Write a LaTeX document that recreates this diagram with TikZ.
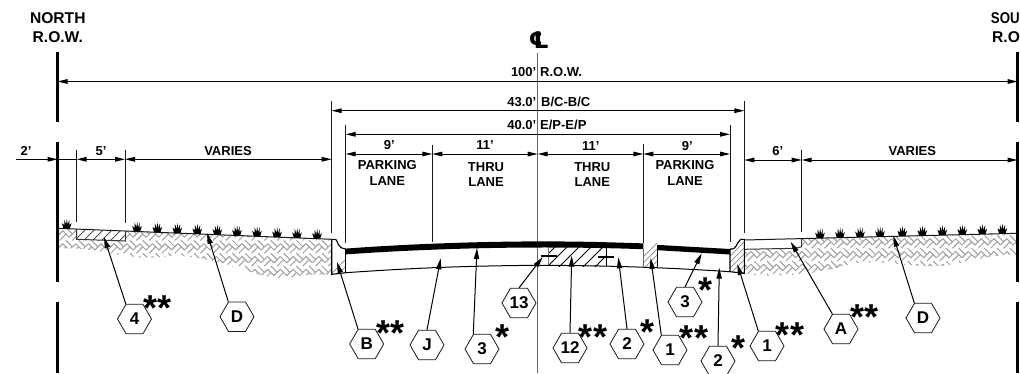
\documentclass[tikz,border=0pt]{standalone}
\usepackage{fontspec}
\setmainfont{Liberation Sans}
\newfontfamily\symfont{DejaVu Sans}
\usetikzlibrary{arrows.meta,shapes.geometric}
\tikzset{
  lbl/.style={inner sep=0pt,anchor=base,font=\fontsize{13}{15}\selectfont\bfseries},
  lblE/.style={lbl,anchor=base east},
  lblW/.style={lbl,anchor=base west},
  head/.style={inner sep=0pt,anchor=base,font=\fontsize{15.6}{18}\selectfont\bfseries},
  hexa/.style={regular polygon,regular polygon sides=6,draw=black!90,line width=.8pt,fill=white,
     minimum size=34pt,inner sep=0pt,font=\fontsize{17}{18}\selectfont\bfseries},
  stars/.style={inner sep=0pt,anchor=base,font=\fontsize{36}{36}\selectfont\bfseries},
  lead/.style={line width=1pt,black,-{Stealth[length=11pt,width=5.2pt,inset=0pt]}},
  dim/.style={line width=1pt,black,{Stealth[length=10pt,width=4.6pt,inset=0pt]}-{Stealth[length=10pt,width=4.6pt,inset=0pt]}},
  dimr/.style={line width=1pt,black,-{Stealth[length=10pt,width=4.6pt,inset=0pt]}},
  ext/.style={line width=1pt,black!90},
  rowbar/.style={line width=2.5pt,black},
  surf/.style={line width=1pt,black!90},
  hatchgray/.style={line width=.7pt,black!45},
  hatchblack/.style={line width=.8pt,black},
  weave/.style={line width=1pt,black!38},
  pics/tuft/.style={code={
    \fill[black] (-3.2,0) -- (-4.8,-5.5) -- (-2.4,-3.6) -- (-2.3,-9) -- (-.6,-4.2) -- (.2,-10)
      -- (1,-4.2) -- (2.8,-9) -- (2.6,-3.6) -- (4.8,-5.5) -- (3.2,0) -- cycle;
  }},
}
\newcommand{\weavefill}[3]{% x origin, y origin, count
  \foreach \n in {0,...,#3}{
    \pgfmathtruncatemacro{\pty}{mod(\n,2)}
    \foreach \k in {0,...,5}{
      \pgfmathsetmacro{\cx}{#1+6.4*\n}
      \pgfmathsetmacro{\cy}{#2+6.4*(\pty+2*\k)}
      \ifnum\pty=0
        \draw[weave] (\cx,\cy) -- ++(6.4,6.4);
        \draw[weave] (\cx+3.2,\cy-3.2) -- ++(6.4,6.4);
      \else
        \draw[weave] (\cx,\cy) -- ++(6.4,-6.4);
        \draw[weave] (\cx+3.2,\cy+3.2) -- ++(6.4,-6.4);
      \fi
    }
  }
}
\begin{document}
\begin{tikzpicture}[x=1pt,y=-1pt]
\clip (0,0) rectangle (1020,373);
\fill[white] (0,0) rectangle (1020,373);

% ---- earth left
\begin{scope}
  \clip (57.5,228.3) -- (331.7,239.3) -- (331.7,275) .. controls (300,272) and (290,282) .. (265,276)
    .. controls (235,268) and (200,252) .. (160,257) .. controls (120,260) and (90,245) .. (57.5,249) -- cycle;
  \weavefill{50}{218}{45}
\end{scope}
% ---- earth right
\begin{scope}
  \clip (744.3,240) -- (1017.5,233.3) -- (1017.5,255) .. controls (990,252) and (960,268) .. (925,266)
    .. controls (890,264) and (870,260) .. (850,264) .. controls (820,274) and (780,278) .. (744.3,274) -- cycle;
  \weavefill{738}{213}{44}
\end{scope}

% ---- left sidewalk
\begin{scope}
  \fill[white] (76.7,229.1) -- (125.7,231.1) -- (125.7,241) -- (76.7,239.3) -- cycle;
  \clip (76.7,229.1) -- (125.7,231.1) -- (125.7,241) -- (76.7,239.3) -- cycle;
  \foreach \x in {72,81,...,135}{\draw[line width=.7pt,black!80] (\x,243) -- ++(16,-16);}
\end{scope}
\draw[line width=1pt,black!80] (76.7,229.1) -- (76.7,239.3) -- (125.7,241) -- (125.7,231.1);

% ---- right sidewalk
\fill[white] (744.3,240) -- (801.7,238.4) -- (801.7,246.7) -- (795,248.3) -- (744.3,249.3) -- cycle;
\draw[line width=1pt,black!80] (744.3,249.3) -- (795,248.3) -- (801.7,246.7) -- (801.7,238.4);

% ---- curbs hatching
\begin{scope}
  \clip (331.7,239.3) -- (335.7,239.3) .. controls (338,241) and (337,248) .. (345.7,249) -- (345.7,272.7) -- (331.7,274.3) -- cycle;
  \foreach \x in {325,332,...,360}{\draw[hatchgray] (\x,280) -- ++(40,-40);}
\end{scope}
\begin{scope}
  \clip (730,249) .. controls (737,250) and (736,243) .. (740.7,239.3) -- (744.3,239.3) -- (744.3,273.3) -- (730,271.7) -- cycle;
  \foreach \x in {700,706,...,745}{\draw[hatchgray] (\x,280) -- ++(42,-42);}
\end{scope}
% ---- concrete patch at 1
\begin{scope}
  \clip (643.3,243.5) rectangle (657.7,267.5);
  \foreach \x in {630,636,...,660}{\draw[hatchgray] (\x,270) -- ++(28,-28);}
\end{scope}
% ---- concrete patch at 12
\begin{scope}
  \clip (548.3,246) rectangle (606.7,266);
  \foreach \x in {532,544,...,610}{\draw[hatchblack] (\x,270) -- ++(24,-24);}
\end{scope}

% ---- extension lines
\draw[ext] (331.7,101) -- (331.7,233);
\draw[ext] (744.3,101) -- (744.3,233);
\draw[ext] (345.7,124.5) -- (345.7,243);
\draw[ext] (730,125) -- (730,241.7);
\draw[ext] (432.3,145) -- (432.3,242.3);
\draw[ext] (643.3,144) -- (643.3,243.3);
\draw[ext] (76.7,150) -- (76.7,222.3);
\draw[ext] (125,150) -- (125,223);
\draw[ext] (801.7,150) -- (801.7,231.7);

% ---- centre line
\coordinate (clT) at (537.7,52.7);
\coordinate (clB) at (537.7,373);
\draw[line width=1pt,black!60] (clT) -- (clB);

% ---- R.O.W. bars
\foreach \x in {57.5,1017.5}{
  \draw[rowbar] (\x,52) -- (\x,122);
  \draw[rowbar] (\x,142) -- (\x,281.7);
  \draw[rowbar] (\x,301.7) -- (\x,373);
}

% ---- dimension lines
\coordinate (rowL) at (57.5,81.5);  \coordinate (rowR) at (1017.5,81.5);
\coordinate (bcL) at (331.7,110.7); \coordinate (bcR) at (744.3,110.7);
\coordinate (epL) at (345.7,134.3); \coordinate (epR) at (730,134.3);
\coordinate (la) at (345.7,154); \coordinate (lb) at (432.3,154);
\coordinate (lc) at (537.7,154); \coordinate (ld) at (643.3,154); \coordinate (le) at (730,154);
\coordinate (tw) at (15.7,159.3); \coordinate (ta) at (57.5,159.3);
\coordinate (tb) at (76.7,159.3); \coordinate (tc) at (125,159.3); \coordinate (td) at (331.7,159.3);
\coordinate (ra) at (744.3,160); \coordinate (rb) at (801.7,160); \coordinate (rc) at (1017.5,160);
\draw[dim] (rowL) -- (rowR);
\draw[dim] (bcL) -- (bcR);
\draw[dim] (epL) -- (epR);
\draw[dim] (la) -- (lb);
\draw[dim] (lb) -- (lc);
\draw[dim] (lc) -- (ld);
\draw[dim] (ld) -- (le);
\draw[dimr] (tw) -- (ta);
\draw[line width=1pt,black] (ta) -- (tb);
\draw[dim] (tb) -- (tc);
\draw[dim] (tc) -- (td);
\draw[dim] (ra) -- (rb);
\draw[dim] (rb) -- (rc);

% ---- surfaces
\draw[surf] (57.5,228.3) -- (331.7,239.3);
\draw[surf] (744.3,240) -- (1017.5,233.3);

% ---- tufts
\foreach \x in {66.7,137,157.3,177.3,197.3,217.3,237,257,277,297,317}{
  \pgfmathsetmacro{\y}{228.3+(\x-57.5)*11/274.2}
  \pic at (\x,\y) {tuft};
}
\foreach \x in {820,840,860,880,902.3,922.3,942.3,962.3,982.3,1002.3}{
  \pgfmathsetmacro{\y}{240+(\x-744.3)*(-6.7)/273.2}
  \pic at (\x,\y) {tuft};
}

% ---- left curb outline
\draw[line width=1.1pt,black] (331.7,239.3) -- (331.7,274.3) -- (345.7,272.7);
\draw[line width=1.1pt,black] (331.7,239.3) -- (335.7,239.3) .. controls (338,241) and (337,248) .. (345.7,249);
\draw[line width=1.1pt,black] (345.7,249) -- (345.7,272.7);
% ---- right curb outline
\draw[line width=1.1pt,black] (730,249) -- (730,271.7) -- (744.3,273.3) -- (744.3,239.3) -- (740.7,239.3)
   .. controls (736,243) and (737,250) .. (730,249);

% ---- subgrade curve
\draw[line width=1pt,black] (345.7,272.7) .. controls (400,269) and (450,266) .. (537.7,265.3)
   .. controls (600,265.5) and (660,267) .. (730,271.7);

% ---- pavement band
\fill[black] (345.7,248.6) .. controls (400,244.5) and (470,241.6) .. (537.7,241.4)
   .. controls (580,241.3) and (615,242.4) .. (643.3,243.4) -- (643.3,249.2)
   .. controls (615,248.2) and (580,247.4) .. (537.7,247.5)
   .. controls (470,247.6) and (400,250.5) .. (345.7,254.4) -- cycle;
\fill[black] (657.7,244.9) -- (730,249) -- (730,254.5) -- (657.7,250.2) -- cycle;

% ---- vertical edges in the road
\draw[line width=1pt,black] (657.7,245) -- (657.7,267.5);
\draw[line width=1pt,black] (606.7,247.8) -- (606.7,266);
\draw[line width=.9pt,black!50] (548.3,247.5) -- (548.3,265.3);
\draw[line width=.9pt,black!60] (643.3,249) -- (643.3,267);

% ---- joints
\coordinate (j1a) at (540.7,256); \coordinate (j1b) at (556.7,256);
\coordinate (j2a) at (598.3,256.7); \coordinate (j2b) at (614.3,256.7);
\draw[line width=2.4pt,black] (j1a) -- (j1b);
\draw[line width=2.4pt,black] (j2a) -- (j2b);

% ---- headings
\node[head] (northA) at (57.8,23) {NORTH};
\node[head] (northB) at (57.8,42.7) {R.O.W.};
\node[head,anchor=base west] (southA) at (990.7,23) {\scalebox{.85}[1]{SOU}};
\node[head,anchor=base west] (southB) at (992,42.7) {R.O};
\node[font=\fontsize{23}{23}\selectfont\symfont\bfseries,inner sep=0pt] (cl) at (539,40.5) {^^^^2104};

% ---- dimension texts
\node[lblE] (t100) at (536.5,76.7) {100'};
\node[lblW] (t100b) at (540,76.7) {R.O.W.};
\node[lblE] (t43) at (536.5,106) {43.0'};
\node[lblW] (t43b) at (541,106) {B/C-B/C};
\node[lblE] (t40) at (536.5,129) {40.0'};
\node[lblW] (t40b) at (540,129) {E/P-E/P};
\node[lbl] (t9a) at (389.3,149.5) {9'};
\node[lbl] (t11a) at (485,149.5) {11'};
\node[lbl] (t11b) at (590.7,150) {11'};
\node[lbl] (t9b) at (687.3,150) {9'};
\node[lbl] (t2) at (26,155) {2'};
\node[lbl] (t5) at (101,155) {5'};
\node[lbl] (tv1) at (228,155) {VARIES};
\node[lbl] (t6) at (777.7,155) {6'};
\node[lbl] (tv2) at (912.3,155) {VARIES};
\node[lbl] (pk1) at (387.3,169) {PARKING};
\node[lbl] (pl1) at (387.3,185) {LANE};
\node[lbl] (th1) at (486,171) {THRU};
\node[lbl] (tl1) at (486,186.7) {LANE};
\node[lbl] (th2) at (592.3,171) {THRU};
\node[lbl] (tl2) at (592.3,186.7) {LANE};
\node[lbl] (pk2) at (685,169.3) {PARKING};
\node[lbl] (pl2) at (685,185) {LANE};

% ---- callouts
\node[hexa] (h4) at (134.5,319) {4};
\node[hexa] (hD) at (237,316.7) {D};
\node[hexa] (hB) at (366.7,344) {B};
\node[hexa] (hJ) at (427,345) {J};
\node[hexa] (h3) at (482,349) {3};
\node[hexa] (h13) at (519,303) {13};
\node[hexa] (h12) at (570,348) {12};
\node[hexa] (h2) at (627,344) {2};
\node[hexa] (h1) at (670,350) {1};
\node[hexa] (h3b) at (685,302) {3};
\node[hexa] (h2b) at (718,361) {2};
\node[hexa] (h1b) at (767,346) {1};
\node[hexa] (hA) at (841,329) {A};
\node[hexa] (hD2) at (923,318) {D};

\coordinate (e4) at (104,237);
\coordinate (eD) at (207,233);
\coordinate (eB) at (337,262);
\coordinate (eJ) at (440.7,258.3);
\coordinate (e3) at (477,248);
\coordinate (e13) at (542.7,257);
\coordinate (e12) at (571.7,255.7);
\coordinate (e2) at (618.3,257.3);
\coordinate (e1) at (650.7,258);
\coordinate (e3b) at (701.7,253.3);
\coordinate (e2b) at (719.3,267.7);
\coordinate (e1b) at (737.3,264);
\coordinate (eA) at (790.7,241.7);
\coordinate (eD2) at (893.3,235.7);
\draw[lead] (h4.120) -- (e4);
\draw[lead] (hD.120) -- (eD);
\draw[lead] (hB.120) -- (eB);
\draw[lead] (hJ.90) -- (eJ);
\draw[lead] (h3.120) -- (e3);
\draw[lead] (h13.90) -- (e13);
\draw[lead] (h12.90) -- (e12);
\draw[lead] (h2.90) -- (e2);
\draw[lead] (h1.120) -- (e1);
\draw[lead] (h3b.90) -- (e3b);
\draw[lead] (h2b.90) -- (e2b);
\draw[lead] (h1b.120) -- (e1b);
\draw[lead] (hA.120) -- (eA);
\draw[lead] (hD2.120) -- (eD2);

% ---- asterisks
\node[stars] (s4) at (158,320) {**};
\node[stars] (sB) at (390.7,345) {**};
\node[stars] (s3) at (502,349) {*};
\node[stars] (s12) at (593,349) {**};
\node[stars] (s2) at (647,344) {*};
\node[stars] (s1) at (694,350) {**};
\node[stars] (s3b) at (705,302) {*};
\node[stars] (s2b) at (738,360) {*};
\node[stars] (s1b) at (790,347) {**};
\node[stars] (sA) at (864,329) {**};
\end{tikzpicture}
\end{document}
